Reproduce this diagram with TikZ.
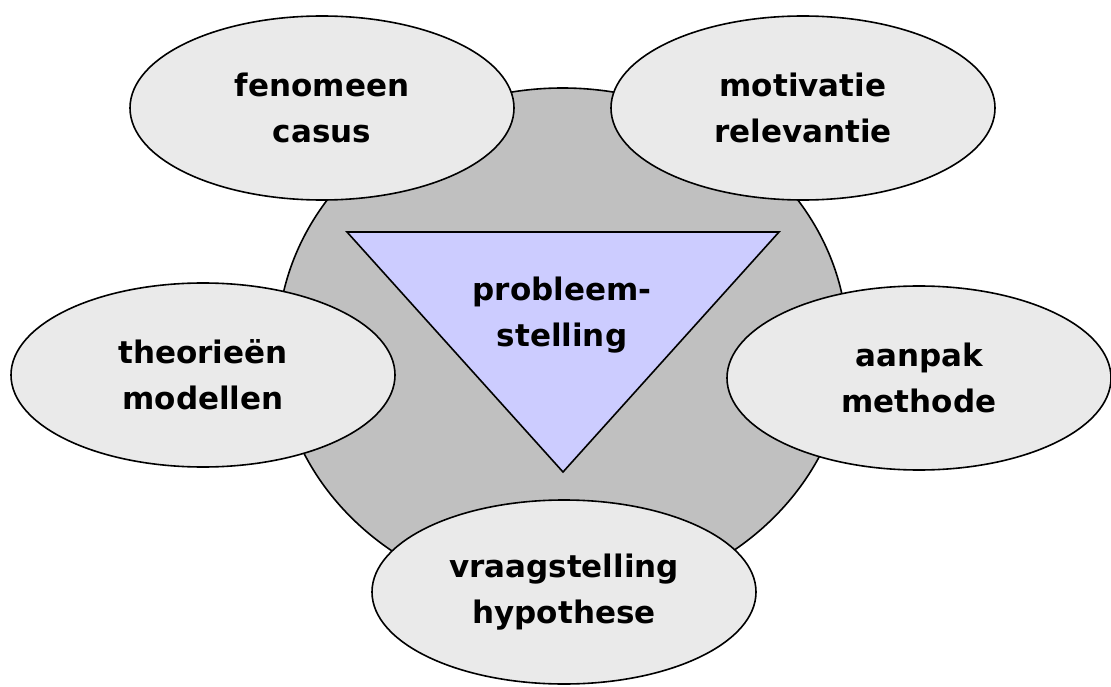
\documentclass[tikz,border=0pt]{standalone}
\usepackage{fontspec}
\setmainfont{DejaVu Sans}
\usetikzlibrary{shapes.geometric}
\definecolor{schijf}{HTML}{C0C0C0}
\definecolor{wolk}{HTML}{EAEAEA}
\definecolor{kern}{HTML}{CCCCFF}
\tikzset{
  tekst/.style={align=center,font=\bfseries\fontsize{31}{46}\selectfont},
  blob/.style={tekst,ellipse,draw,line width=1.6pt,fill=wolk,inner sep=0pt,
    minimum width=384pt,minimum height=184pt}
}

\begin{document}
\begin{tikzpicture}[x=1pt,y=-1pt]
		\useasboundingbox (0,0) rectangle (1111,687);
		\filldraw[line width=1.6pt,fill=schijf](562.5,345) ellipse[x radius=285pt,y radius=257pt];
		\coordinate(L) at(347,232);
		\coordinate(R) at(779,232);
		\coordinate(P) at(563,472);
		\filldraw[line width=1.6pt,fill=kern](L) -- (R) -- (P) -- cycle;
		\node[tekst](probleem) at(562,315){probleem-\\stelling};
		
		\node[blob](fenomeen) at(322,108){fenomeen\\casus};
		\node[blob](motivatie) at(803,108){motivatie\\relevantie};
		\node[blob](theorie) at(203,375){theorieën\\modellen};
		\node[blob](aanpak) at(919,378){aanpak\\methode};
		\node[blob](vraag) at(564,592){vraagstelling\\hypothese};
	\end{tikzpicture}
\end{document}
